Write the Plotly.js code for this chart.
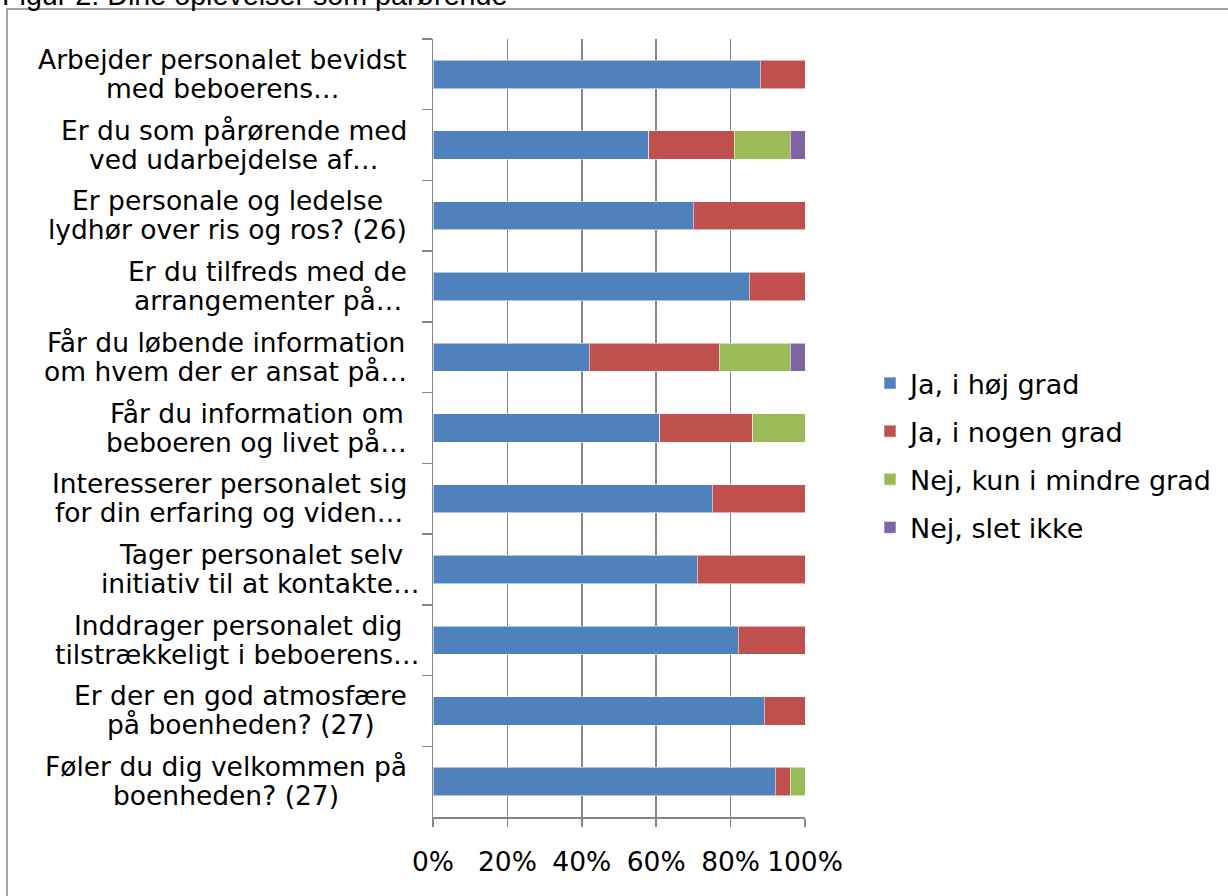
<!DOCTYPE html>
<html>
<head>
<meta charset="utf-8">
<script src="https://cdn.plot.ly/plotly-3.0.1.min.js"></script>
<style>
  html, body { margin: 0; padding: 0; background: #fff; }
  #chart { width: 1228px; height: 896px; }
</style>
</head>
<body>
<div id="chart"></div>
<script>
// ---------- data ----------
const categories = [
  "Arbejder personalet bevidst<br>med beboerens…",
  "Er du som pårørende med<br>ved udarbejdelse af…",
  "Er personale og ledelse<br>lydhør over ris og ros? (26)",
  "Er du tilfreds med de<br>arrangementer på…",
  "Får du løbende information<br>om hvem der er ansat på…",
  "Får du information om<br>beboeren og livet på…",
  "Interesserer personalet sig<br>for din erfaring og viden…",
  "Tager personalet selv<br>initiativ til at kontakte…",
  "Inddrager personalet dig<br>tilstrækkeligt i beboerens…",
  "Er der en god atmosfære<br>på boenheden? (27)",
  "Føler du dig velkommen på<br>boenheden? (27)"
];
const seriesNames = ["Ja, i høj grad", "Ja, i nogen grad", "Nej, kun i mindre grad", "Nej, slet ikke"];
const jaHoj    = [88, 58, 70, 85, 42, 61, 75, 71, 82, 89, 92];
const jaNogen  = [12, 23, 30, 15, 35, 25, 25, 29, 18, 11, 4];
const nejMindre= [0, 15, 0, 0, 19, 14, 0, 0, 0, 0, 4];
const nejSlet  = [0, 4, 0, 0, 4, 0, 0, 0, 0, 0, 0];
const xTickVals = [0, 20, 40, 60, 80, 100];
const titleText = "Figur 2: Dine oplevelser som pårørende";

// ---------- styling ----------
const colors = ["#4F81BD", "#C0504D", "#9BBB59", "#8064A2"];
const FONT = '"DejaVu Sans", Verdana, sans-serif';
const FS = 26.5;
const W = 1228, H = 896;
const M = { l: 433, r: 423, t: 39, b: 79 };
const plotW = W - M.l - M.r, plotH = H - M.t - M.b;
const px2x = p => (p - M.l) / plotW;
const px2y = p => (H - M.b - p) / plotH;

const seriesVals = [jaHoj, jaNogen, nejMindre, nejSlet];
const traces = seriesVals.map((vals, i) => ({
  type: "bar",
  orientation: "h",
  name: seriesNames[i],
  legendgroup: "g" + i,
  x: vals,
  y: categories,
  marker: { color: colors[i], line: { color: "rgba(255,255,255,0.55)", width: 1 } },
  hoverinfo: "x+name"
}));

// category label annotations (two centered lines each)
const cv = document.createElement("canvas").getContext("2d");
cv.font = FS + "px " + FONT;
const annotations = [];
categories.forEach(cat => {
  const lines = cat.split("<br>");
  const widths = lines.map(s => cv.measureText(s).width);
  let wi = widths[0] >= widths[1] ? 0 : 1;
  const wmax = widths[wi];
  let right = 407;
  if (lines[wi].endsWith("…") && wmax - widths[1 - wi] > 15) right = 420;
  const cx = right - wmax / 2;
  lines.forEach((ln, k) => {
    annotations.push({
      xref: "paper", yref: "y", x: px2x(cx), y: cat,
      xanchor: "center", yanchor: "middle",
      yshift: k === 0 ? 15 : -14,
      text: ln, showarrow: false,
      font: { family: FONT, size: FS, color: "#000" }
    });
  });
});
// partially visible page title
annotations.push({
  xref: "paper", yref: "paper", x: px2x(0), y: px2y(-5),
  xanchor: "left", yanchor: "middle",
  text: titleText, showarrow: false,
  font: { family: '"Liberation Sans", Arial, sans-serif', size: 28.7, color: "#000" }
});

const layout = {
  width: W, height: H,
  margin: M,
  paper_bgcolor: "#fff", plot_bgcolor: "#fff",
  barmode: "stack",
  bargap: 0.6,
  showlegend: true,
  legend: {
    x: px2x(870), y: px2y(359), xanchor: "left", yanchor: "top",
    traceorder: "grouped", tracegroupgap: 10,
    font: { family: FONT, size: 27, color: "#000" },
    bgcolor: "rgba(0,0,0,0)"
  },
  xaxis: {
    range: [0, 100],
    tickvals: xTickVals,
    ticktext: xTickVals.map(v => v + "%"),
    showgrid: true, gridcolor: "#878787", gridwidth: 1.5,
    showline: true, linecolor: "#878787", linewidth: 1.5,
    ticks: "outside", ticklen: 8, tickcolor: "#878787", tickwidth: 1.5,
    ticklabelstandoff: 13,
    zeroline: false,
    tickfont: { family: FONT, size: FS, color: "#000" },
    fixedrange: true
  },
  yaxis: {
    type: "category",
    categoryorder: "array", categoryarray: categories,
    range: [categories.length - 0.5, -0.5],
    showticklabels: false,
    tickson: "boundaries",
    ticks: "outside", ticklen: 10, tickcolor: "#878787", tickwidth: 1.5,
    showline: true, linecolor: "#878787", linewidth: 1.5,
    showgrid: false, zeroline: false,
    fixedrange: true
  },
  shapes: [{
    type: "rect", xref: "paper", yref: "paper",
    x0: px2x(7), x1: px2x(W + 20), y0: px2y(H + 20), y1: px2y(9),
    line: { color: "#878787", width: 1.5 }, fillcolor: "rgba(0,0,0,0)", layer: "below"
  }],
  annotations: annotations
};

Plotly.newPlot("chart", traces, layout, { displayModeBar: false, staticPlot: true });
</script>
</body>
</html>
